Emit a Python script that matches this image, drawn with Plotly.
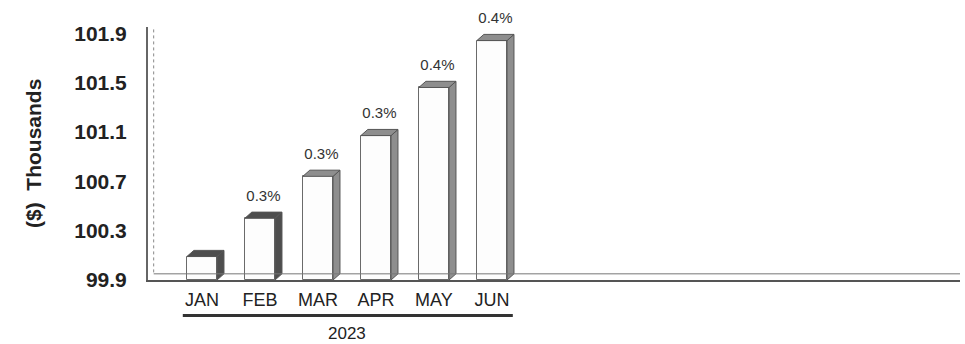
import plotly.graph_objects as go

months = ["JAN", "FEB", "MAR", "APR", "MAY", "JUN"]
values = [100.09, 100.40, 100.74, 101.07, 101.46, 101.84]
pct_labels = ["", "0.3%", "0.3%", "0.3%", "0.4%", "0.4%"]
year_label = "2023"
y_ticks = [99.9, 100.3, 100.7, 101.1, 101.5, 101.9]
side_colors = ["#4e4e4e", "#4e4e4e", "#8e8e8e", "#8e8e8e", "#8e8e8e", "#8e8e8e"]

BASE = 99.9
W = 0.26      # half bar width (category units)
DX = 0.12     # depth offset x
DY = 0.05     # depth offset y
LABEL_PAD = 0.06

xs = list(range(len(months)))
fig = go.Figure()

# 3D side and top faces derived from the data
for x, v, c in zip(xs, values, side_colors):
    fig.add_trace(go.Scatter(
        x=[x + W, x + W + DX, x + W + DX, x + W, x + W],
        y=[BASE, BASE + DY, v + DY, v, BASE],
        fill="toself", fillcolor=c, mode="lines",
        line=dict(color="#555555", width=1), hoverinfo="skip", showlegend=False))
    fig.add_trace(go.Scatter(
        x=[x - W, x - W + DX, x + W + DX, x + W, x - W],
        y=[v, v + DY, v + DY, v, v],
        fill="toself", fillcolor=c, mode="lines",
        line=dict(color="#555555", width=1), hoverinfo="skip", showlegend=False))

# front faces
fig.add_trace(go.Bar(
    x=xs, y=[v - BASE for v in values], base=BASE, width=2 * W,
    marker=dict(color="#fdfdfd", line=dict(color="#6a6a6a", width=1)),
    showlegend=False, hoverinfo="skip"))

# percent labels
fig.add_trace(go.Scatter(
    x=[x + DX / 2 for x in xs], y=[v + DY + LABEL_PAD for v in values],
    mode="text", text=pct_labels, textposition="top center",
    textfont=dict(family="Liberation Sans, Arial", size=15, color="#333333"),
    showlegend=False, hoverinfo="skip", cliponaxis=False))

fig.update_layout(
    width=965, height=344,
    margin=dict(l=148, r=5, t=27, b=64),
    paper_bgcolor="white", plot_bgcolor="white",
    font=dict(family="Liberation Sans, Arial", color="#222222"),
    bargap=0,
    xaxis=dict(
        range=[-0.93, 13.07], tickmode="array", tickvals=xs, ticktext=months,
        tickfont=dict(size=18, color="#222222"), showgrid=False, zeroline=False,
        showline=True, linecolor="#555555", linewidth=1.5, ticks="",
        ticklabelstandoff=3),
    yaxis=dict(
        range=[BASE, 101.95], tickmode="array", tickvals=y_ticks,
        ticktext=[f"<b>{t:.1f}</b>" for t in y_ticks],
        tickfont=dict(size=21, color="#222222", family="Liberation Sans, Arial"),
        showgrid=False, zeroline=False, showline=True, linecolor="#666666",
        linewidth=2, ticks="", ticklabelstandoff=15),
    shapes=[
        # inner wall line
        dict(type="line", xref="paper", yref="paper", x0=0.007, x1=0.007,
             y0=0.03, y1=1, line=dict(color="#888888", width=1, dash="dot")),
        # back floor line
        dict(type="line", xref="paper", yref="y", x0=0.007, x1=1,
             y0=BASE + DY, y1=BASE + DY, line=dict(color="#777777", width=1)),
        # year underline
        dict(type="line", xref="x", yref="paper", x0=-0.33, x1=5.36,
             y0=-0.14, y1=-0.14, line=dict(color="#333333", width=3)),
    ],
    annotations=[
        dict(text=year_label, xref="x", yref="paper", x=2.5, y=-0.21,
             showarrow=False, font=dict(size=17, color="#222222"),
             xanchor="center", yanchor="middle"),
        dict(text="<b>($)  Thousands</b>", xref="paper", yref="paper",
             x=-0.141, y=0.5, textangle=-90, showarrow=False,
             font=dict(size=21, color="#222222"),
             xanchor="center", yanchor="middle"),
    ],
)

fig.write_html("out.html")
